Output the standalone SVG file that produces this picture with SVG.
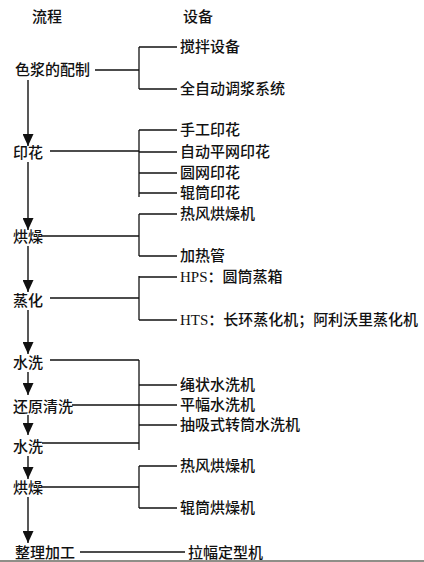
<svg xmlns="http://www.w3.org/2000/svg" width="424" height="562" viewBox="0 0 424 562">
<style>
text{font-family:'Liberation Serif','Noto Sans CJK SC',serif;font-size:15px;font-weight:500;fill:#111;dominant-baseline:central}
.c line{stroke:#111;stroke-width:1.3}
.a line{stroke:#111;stroke-width:1.4}
</style>
<defs>
<marker id="ah" markerWidth="12" markerHeight="11" refX="12" refY="5.5" orient="auto" markerUnits="userSpaceOnUse" viewBox="0 0 12 11">
<path d="M0,0 L12,5.5 L0,11 Z" fill="#111"/>
</marker>
</defs>
<rect width="424" height="562" fill="#fff"/>
<rect x="0" y="560" width="424" height="2" fill="#8f8f88"/>

<g id="headers">
<text x="32" y="17">流程</text>
<text x="183" y="17">设备</text>
</g>

<g id="process">
<g id="p1"><text x="15" y="70">色浆的配制</text></g>
<g id="p2"><text x="13" y="153">印花</text></g>
<g id="p3"><text x="13" y="237">烘燥</text></g>
<g id="p4"><text x="13" y="301">蒸化</text></g>
<g id="p5"><text x="13" y="363">水洗</text></g>
<g id="p6"><text x="13" y="407">还原清洗</text></g>
<g id="p7"><text x="13" y="447">水洗</text></g>
<g id="p8"><text x="13" y="488">烘燥</text></g>
<g id="p9"><text x="15" y="553">整理加工</text></g>
</g>

<g id="equipment">
<g id="e1"><text x="180" y="47">搅拌设备</text></g>
<g id="e2"><text x="180" y="89">全自动调浆系统</text></g>
<g id="e3"><text x="180" y="130">手工印花</text></g>
<g id="e4"><text x="180" y="152">自动平网印花</text></g>
<g id="e5"><text x="180" y="173">圆网印花</text></g>
<g id="e6"><text x="180" y="193">辊筒印花</text></g>
<g id="e7"><text x="180" y="214">热风烘燥机</text></g>
<g id="e8"><text x="180" y="256">加热管</text></g>
<g id="e9"><text x="180" y="277">HPS：圆筒蒸箱</text></g>
<g id="e10"><text x="180" y="320" textLength="238" lengthAdjust="spacingAndGlyphs">HTS：长环蒸化机；阿利沃里蒸化机</text></g>
<g id="e11"><text x="180" y="385">绳状水洗机</text></g>
<g id="e12"><text x="180" y="405">平幅水洗机</text></g>
<g id="e13"><text x="180" y="425">抽吸式转筒水洗机</text></g>
<g id="e14"><text x="180" y="466">热风烘燥机</text></g>
<g id="e15"><text x="180" y="508">辊筒烘燥机</text></g>
<g id="e16"><text x="188" y="553">拉幅定型机</text></g>
</g>

<g id="connectors" class="c">
<line x1="95" y1="70" x2="139" y2="70"/>
<line x1="139" y1="47" x2="139" y2="89"/>
<line x1="139" y1="47" x2="177" y2="47"/>
<line x1="139" y1="89" x2="177" y2="89"/>

<line x1="50" y1="151" x2="139" y2="151"/>
<line x1="139" y1="130" x2="139" y2="197"/>
<line x1="139" y1="130" x2="177" y2="130"/>
<line x1="139" y1="152" x2="177" y2="152"/>
<line x1="139" y1="173" x2="177" y2="173"/>
<line x1="139" y1="193" x2="177" y2="193"/>

<line x1="42" y1="236" x2="139" y2="236"/>
<line x1="139" y1="214" x2="139" y2="256"/>
<line x1="139" y1="214" x2="177" y2="214"/>
<line x1="139" y1="256" x2="177" y2="256"/>

<line x1="50" y1="298" x2="139" y2="298"/>
<line x1="139" y1="276" x2="139" y2="320"/>
<line x1="139" y1="277" x2="177" y2="277"/>
<line x1="139" y1="320" x2="177" y2="320"/>

<line x1="50" y1="360" x2="139" y2="360"/>
<line x1="72" y1="405" x2="139" y2="405"/>
<line x1="42" y1="443" x2="139" y2="443"/>
<line x1="139" y1="360" x2="139" y2="450"/>
<line x1="139" y1="385" x2="177" y2="385"/>
<line x1="139" y1="405" x2="177" y2="405"/>
<line x1="139" y1="425" x2="177" y2="425"/>

<line x1="42" y1="487" x2="139" y2="487"/>
<line x1="139" y1="466" x2="139" y2="508"/>
<line x1="139" y1="466" x2="177" y2="466"/>
<line x1="139" y1="508" x2="177" y2="508"/>

<line x1="80" y1="552" x2="185" y2="552"/>
</g>

<g id="flow-arrows" class="a">
<line x1="28" y1="80" x2="28" y2="146" marker-end="url(#ah)"/>
<line x1="28" y1="162" x2="28" y2="230" marker-end="url(#ah)"/>
<line x1="28" y1="246" x2="28" y2="292" marker-end="url(#ah)"/>
<line x1="28" y1="310" x2="28" y2="354" marker-end="url(#ah)"/>
<line x1="28" y1="372" x2="28" y2="395" marker-end="url(#ah)"/>
<line x1="28" y1="415" x2="28" y2="435" marker-end="url(#ah)"/>
<line x1="28" y1="456" x2="28" y2="479" marker-end="url(#ah)"/>
<line x1="28" y1="497" x2="28" y2="543" marker-end="url(#ah)"/>
</g>
</svg>
